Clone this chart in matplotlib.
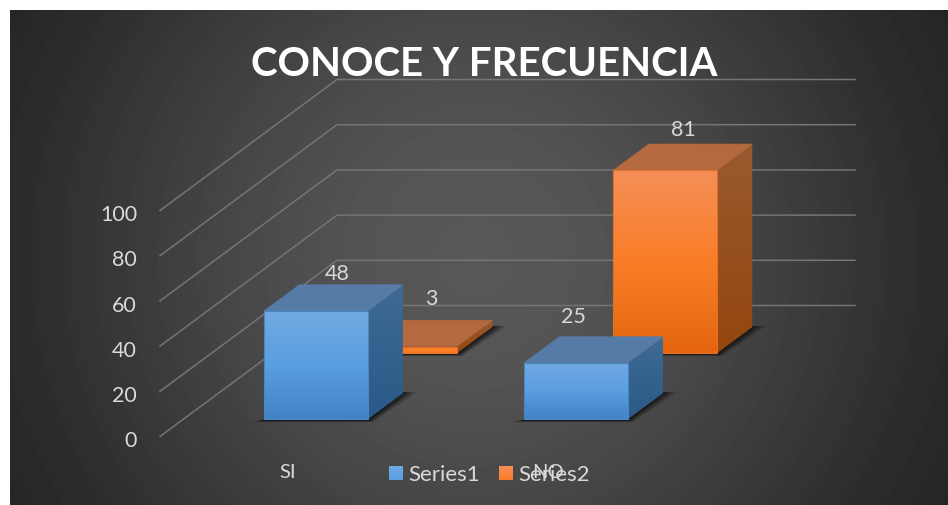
import numpy as np
import matplotlib.pyplot as plt
from matplotlib.colors import LinearSegmentedColormap
from matplotlib.patches import Polygon

categories = ["SI", "NO"]
series_names = ["Series1", "Series2"]
series1 = [48, 25]
series2 = [3, 81]
value_ticks = [0, 20, 40, 60, 80, 100]

W, H = 948, 506
ZERO_Y = 437.5      # pixel row of value 0 on the front edge
UNIT = 2.26         # pixels per value unit
WALL_DX, WALL_DY = 177, 131   # floor depth in pixels
BACK_END = 855      # right end of the back wall grid
FRONT_LEFT = 160
CAT_X = [241, 501]  # left edge of each category group at depth 0
BAR_W = 103.5
BAR_D = 0.2         # bar depth as a share of the floor
SERIES_D = [0.13, 0.635]

# label nudges from the bar front top centre, in pixels
LABEL_OFF = {(0, 0): (21, 38), (0, 1): (26, 49), (1, 0): (-2, 47), (1, 1): (18, 41)}

TEXT = "#d9d9d9"
GRID = "#757575"
plt.rcParams['font.family'] = ['Lato', 'DejaVu Sans']


def val(py):
    # pixel row to value units
    return (ZERO_Y - py) / UNIT


def project(x, v, d):
    return (x + WALL_DX * d, v + WALL_DY * d / UNIT)


def grad_poly(ax, pts, stops, z):
    pts = np.array(pts)
    cmap = LinearSegmentedColormap.from_list("f", stops)
    g = np.linspace(0, 1, 64).reshape(-1, 1)
    im = ax.imshow(g, cmap=cmap, aspect='auto', zorder=z, interpolation='bilinear',
                   extent=[pts[:, 0].min(), pts[:, 0].max(), pts[:, 1].min(), pts[:, 1].max()])
    clip = Polygon(pts, transform=ax.transData, fc='none', ec='none')
    ax.add_patch(clip)
    im.set_clip_path(clip)


def draw_bar(ax, x, d, value, c, z):
    d2 = d + BAR_D
    x2 = x + BAR_W
    fl, fr = project(x, 0, d), project(x2, 0, d)
    bl, br = project(x, 0, d2), project(x2, 0, d2)
    tfl, tfr = project(x, value, d), project(x2, value, d)
    tbl, tbr = project(x, value, d2), project(x2, value, d2)

    # soft shadow on the floor
    for grow, alpha in [(14, 0.18), (11, 0.25), (8, 0.35), (5, 0.45), (2, 0.6)]:
        drop = (1 + grow * 0.12) / UNIT
        shadow = [(fl[0] - grow, fl[1] - drop), (fr[0] + grow * 0.4, fr[1] - drop),
                  (br[0] + grow, br[1] + 1 / UNIT), (br[0] - 10, br[1] + 1 / UNIT), (fl[0], fl[1])]
        ax.add_patch(Polygon(shadow, fc='#141414', ec='none', alpha=alpha, zorder=z))

    if value < 10:
        grad_poly(ax, [fl, fr, tfr, tfl], [c['mid'], c['mid']], z + 0.1)
    else:
        grad_poly(ax, [fl, fr, tfr, tfl], [c['light'], c['mid'], c['dark']], z + 0.1)
    grad_poly(ax, [fr, br, tbr, tfr], [c['side_top'], c['side_bot']], z + 0.2)
    ax.add_patch(Polygon([tfl, tfr, tbr, tbl], fc=c['top'], ec=c['top'], lw=0.5, zorder=z + 0.3))
    ax.add_patch(Polygon([fl, fr, tfr, tfl], fc='none', ec=c['edge'], lw=0.8, zorder=z + 0.4))


blue = dict(light='#72a9e2', mid='#5a9fe0', dark='#4283c6', top='#567ba6',
            side_top='#3f6a94', side_bot='#2a5a88', edge='#4a86c0')
orange = dict(light='#f58f58', mid='#fa7d27', dark='#e5660f', top='#b5693f',
              side_top='#9a5a30', side_bot='#94460e', edge='#e0702a')
colors = [blue, orange]

fig = plt.figure(figsize=(W / 100, H / 100), dpi=100, facecolor='white')
ax = fig.add_axes([0, 0, 1, 1])
ax.axis('off')

# radial background of the chart panel
yy, xx = np.mgrid[11:506, 10:948]
r = np.hypot(xx - 474, yy - 258)
shade = np.interp(r, [0, 120, 245, 465, 540], [0x58, 0x54, 0x47, 0x2b, 0x25]) / 255
ax.imshow(shade, cmap='gray', vmin=0, vmax=1, aspect='auto', zorder=0,
          extent=[10, 948, val(506), val(11)])

# grid on side wall and back wall
for t in value_ticks:
    front = project(FRONT_LEFT, t, 0)
    back = project(FRONT_LEFT, t, 1)
    ax.plot([front[0], back[0], BACK_END], [front[1], back[1], back[1]],
            color=GRID, lw=1.1, zorder=1, solid_joinstyle='miter')
    ax.text(137, t - 1.6, str(t), ha='right', va='center', color=TEXT, fontsize=15.5, zorder=5)

# back row first so the front row covers it
for s, values in reversed(list(enumerate([series1, series2]))):
    for i, v in enumerate(values):
        draw_bar(ax, CAT_X[i], SERIES_D[s], v, colors[s], 2 + (1 - s))

for s, values in enumerate([series1, series2]):
    for i, v in enumerate(values):
        x, y = project(CAT_X[i] + BAR_W / 2, v, SERIES_D[s])
        ox, oy = LABEL_OFF[(i, s)]
        ax.text(x + ox, y + oy / UNIT, str(v), ha='center', va='center',
                color=TEXT, fontsize=15.5, zorder=6)

# category labels sit under the floor, the second one collides with the legend
ax.text(288, val(473), categories[0], ha='center', va='center', color=TEXT, fontsize=14.5, zorder=6)
ax.text(548, val(473), categories[1], ha='center', va='center', color=TEXT, fontsize=14.5, zorder=6)

# legend drawn by hand to land on the same spot
for sx, name, c in zip([389, 499], series_names, colors):
    grad_poly(ax, [(sx, val(481)), (sx + 14, val(481)), (sx + 14, val(467)), (sx, val(467))],
              [c['light'], c['mid']], 6)
    ax.text(sx + 19, val(475), name, ha='left', va='center', color=TEXT, fontsize=16, zorder=7)

ax.text(484, val(65), "CONOCE Y FRECUENCIA", ha='center', va='center', color='white',
        fontsize=29, fontweight='bold', zorder=8)

ax.set_xlim(0, W)
ax.set_ylim(val(H), val(0))
fig.savefig("out.png", dpi=100, facecolor='white')
